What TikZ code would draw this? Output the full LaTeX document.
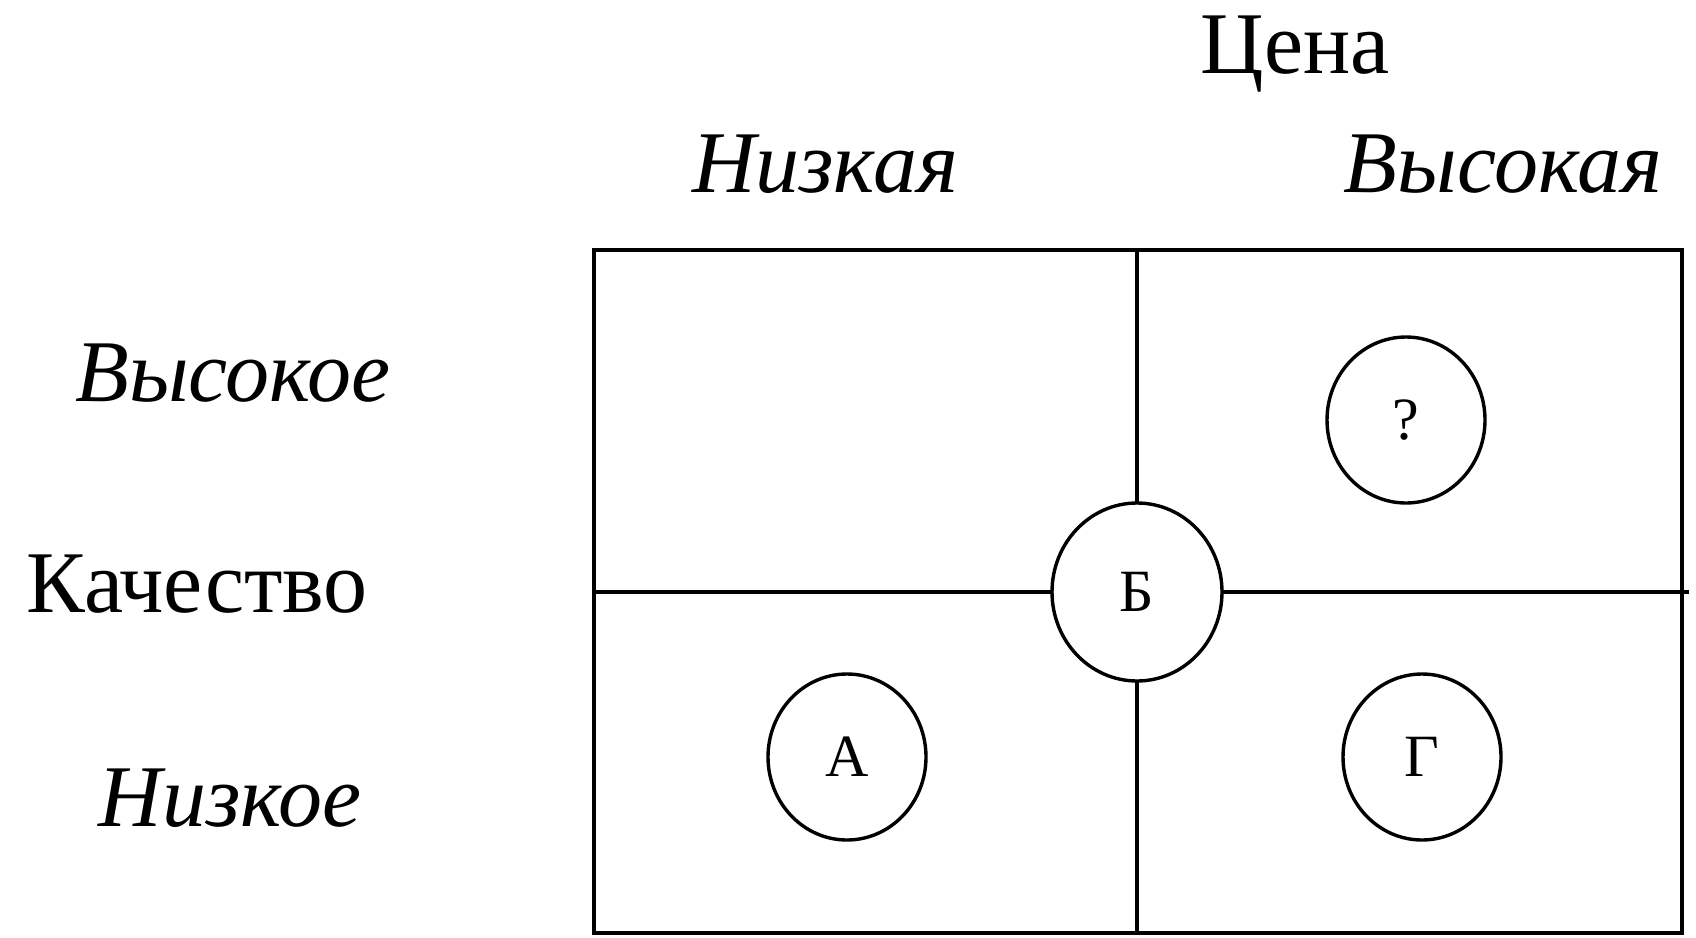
\documentclass[tikz,border=0pt]{standalone}
\usepackage{fontspec}
\setmainfont{Liberation Serif}
\usetikzlibrary{shapes.geometric}
\begin{document}
\begin{tikzpicture}[x=0.5pt,y=-0.5pt,
  grid/.style={line width=1.7pt,line cap=rect},
  bigtext/.style={inner sep=0pt,font=\fontsize{44}{52}\selectfont},
  bigit/.style={inner sep=0pt,font=\fontsize{44}{52}\selectfont\itshape},
  mark circ/.style={ellipse,draw,line width=1.7pt,fill=white,inner sep=0pt,
    minimum width=79pt,minimum height=83pt,font=\fontsize{30}{34}\selectfont}]
\useasboundingbox (0,0) rectangle (1696,937);
% frame corners
\coordinate (tl) at (594,250);
\coordinate (tr) at (1682,250);
\coordinate (bl) at (594,933);
\coordinate (br) at (1682,933);
\coordinate (vt) at (1137,250);
\coordinate (vb) at (1137,933);
\coordinate (hl) at (594,592);
\coordinate (hr) at (1687,592);
\draw[grid] (tl) -- (tr) -- (br) -- (bl) -- cycle;
\draw[grid] (vt) -- (vb);
\draw[grid] (hl) -- (hr);
% circles
\node[mark circ,minimum width=85pt,minimum height=89pt] (b) at (1137,592) {Б};
\node[mark circ] (q) at (1406,420) {?};
\node[mark circ] (a) at (847,757) {А};
\node[mark circ] (g) at (1422,757) {Г};
% labels
\node[bigtext] (price) at (1295,54) {Цена};
\node[bigit] (plow) at (825,164) {Низкая};
\node[bigit] (phigh) at (1503,164) {Высокая};
\node[bigit] (qhigh) at (233,373) {Высокое};
\node[bigtext] (qual) at (197,584) {Качество};
\node[bigit] (qlow) at (230,798) {Низкое};
\end{tikzpicture}
\end{document}
